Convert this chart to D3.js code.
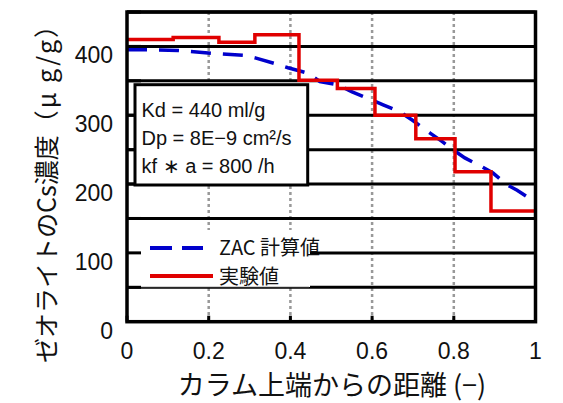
<!DOCTYPE html>
<html><head><meta charset="utf-8">
<script src="https://cdn.jsdelivr.net/npm/d3@7"></script>
<style>body{margin:0;background:#fff;} svg{display:block;}</style>
</head><body>
<svg id="c" width="563" height="403"></svg>
<script>
// ---- data ----
const xTicks = [0, 0.2, 0.4, 0.6, 0.8, 1];
const xTickLabels = ["0", "0.2", "0.4", "0.6", "0.8", "1"];
const yTicks = [0, 100, 200, 300, 400];
const yGrid = [50, 100, 150, 200, 250, 300, 350, 400, 450];
// experimental step data: segment boundaries and values
const expEdges = [0, 0.113, 0.225, 0.313, 0.421, 0.515, 0.607, 0.707, 0.803, 0.891, 1.0];
const expValues = [410, 413, 406, 417, 351, 339, 300, 266, 218, 161];
// ZAC calculated
const zacX = [0, 0.049, 0.125, 0.208, 0.286, 0.316, 0.362, 0.394, 0.443, 0.472, 0.517, 0.551, 0.600, 0.627, 0.668, 0.698, 0.742, 0.771, 0.798, 0.827, 0.869, 0.896, 0.930, 0.955, 0.991, 1.0];
const zacY = [395, 395, 394, 390, 387, 383, 375, 369, 361, 349, 344, 334, 322, 315, 305, 293, 274, 262, 250, 238, 225, 216, 199, 191, 177, 174];
const seriesNames = ["ZAC 計算値", "実験値"];
const paramLines = ["Kd = 440 ml/g", "Dp = 8E\u22129 cm\u00b2/s", "kf \u2217 a = 800 /h"];
const xTitle = "カラム上端からの距離 (\u2212)";
const yTitleMain = "ゼオライトのCs濃度";
const yTitleUnit = "（μ g/g）";

// ---- layout ----
const L = 127, T = 12, W = 408.5, H = 309.7;
const svg = d3.select("#c");
const x = d3.scaleLinear().domain([0, 1]).range([L, L + W]);
const y = d3.scaleLinear().domain([0, 450]).range([T + H, T]);
const num = "'Liberation Sans', Arial, sans-serif";
const jp = "'Noto Sans CJK JP', sans-serif";

// vertical dotted lines
svg.append("g").selectAll("line").data([0.2, 0.4, 0.6, 0.8]).join("line")
  .attr("x1", d => x(d)).attr("x2", d => x(d)).attr("y1", T).attr("y2", T + H)
  .attr("stroke", "#999").attr("stroke-width", 2.5).attr("stroke-dasharray", "3,3");

// horizontal gridlines
svg.append("g").selectAll("line").data(yGrid).join("line")
  .attr("x1", L).attr("x2", L + W).attr("y1", d => y(d)).attr("y2", d => y(d))
  .attr("stroke", "#000").attr("stroke-width", 3);

// ZAC line
const zac = zacX.map((v, i) => [v, zacY[i]]);
svg.append("path").datum(zac)
  .attr("d", d3.line().x(d => x(d[0])).y(d => y(d[1])))
  .attr("fill", "none").attr("stroke", "#0000cc").attr("stroke-width", 3.5)
  .attr("stroke-dasharray", "20,12");

// experimental step line
const stepPts = [];
expValues.forEach((v, i) => { stepPts.push([expEdges[i], v]); stepPts.push([expEdges[i + 1], v]); });
svg.append("path").datum(stepPts)
  .attr("d", d3.line().x(d => x(d[0])).y(d => y(d[1])))
  .attr("fill", "none").attr("stroke", "#e00000").attr("stroke-width", 3.5);

// legend box
svg.append("rect").attr("x", L + 1).attr("y", 230).attr("width", 182).attr("height", 57).attr("fill", "#fff");
svg.append("line").attr("x1", L + 14).attr("x2", 309).attr("y1", y(50)).attr("y2", y(50))
  .attr("stroke", "#333").attr("stroke-width", 1);
svg.append("line").attr("x1", 150).attr("x2", 203).attr("y1", 248).attr("y2", 248)
  .attr("stroke", "#0000cc").attr("stroke-width", 4).attr("stroke-dasharray", "22,10");
svg.append("line").attr("x1", 150).attr("x2", 213).attr("y1", 276).attr("y2", 276)
  .attr("stroke", "#e00000").attr("stroke-width", 4);
svg.append("text").attr("x", 219).attr("y", 255).attr("font-family", jp).attr("font-size", 20)
  .attr("fill", "#111").text(seriesNames[0]);
svg.append("text").attr("x", 219).attr("y", 284).attr("font-family", jp).attr("font-size", 20)
  .attr("fill", "#111").text(seriesNames[1]);

// inward y ticks
svg.append("g").selectAll("line").data(yGrid).join("line")
  .attr("x1", L).attr("x2", L + 14).attr("y1", d => y(d)).attr("y2", d => y(d))
  .attr("stroke", "#000").attr("stroke-width", 3);
// inward x ticks
svg.append("g").selectAll("line").data(xTicks).join("line")
  .attr("x1", d => x(d)).attr("x2", d => x(d)).attr("y1", T + H).attr("y2", T + H - 6)
  .attr("stroke", "#000").attr("stroke-width", 3);

// parameter text box
svg.append("rect").attr("x", 135).attr("y", 84.7).attr("width", 172.7).attr("height", 100.3)
  .attr("fill", "#fff").attr("stroke", "#000").attr("stroke-width", 3);
svg.append("g").selectAll("text").data(paramLines).join("text")
  .attr("x", 141.5).attr("y", (d, i) => 116.5 + i * 28.3)
  .attr("font-family", num).attr("font-size", 20).attr("fill", "#111").text(d => d);

// frame
svg.append("rect").attr("x", L).attr("y", T).attr("width", W).attr("height", H)
  .attr("fill", "none").attr("stroke", "#000").attr("stroke-width", 3.5);

// y tick labels
svg.append("g").selectAll("text").data(yTicks).join("text")
  .attr("x", 113).attr("y", d => y(d) + 17).attr("text-anchor", "end")
  .attr("font-family", num).attr("font-size", 23).attr("fill", "#111").text(d => d);
// x tick labels
svg.append("g").selectAll("text").data(xTicks).join("text")
  .attr("x", d => x(d)).attr("y", 358.5).attr("text-anchor", "middle")
  .attr("font-family", num).attr("font-size", 23).attr("fill", "#111").text((d, i) => xTickLabels[i]);

// axis titles
svg.append("text").attr("x", 332).attr("y", 395).attr("text-anchor", "middle")
  .attr("font-family", jp).attr("font-size", 27).attr("fill", "#111").text(xTitle);
const yt = svg.append("text").attr("transform", "translate(56,187) rotate(-90)").attr("text-anchor", "middle")
  .attr("font-family", jp).attr("font-size", 25).attr("fill", "#111");
yt.append("tspan").text(yTitleMain);
yt.append("tspan").attr("letter-spacing", 2).text(yTitleUnit);
</script>
</body></html>
